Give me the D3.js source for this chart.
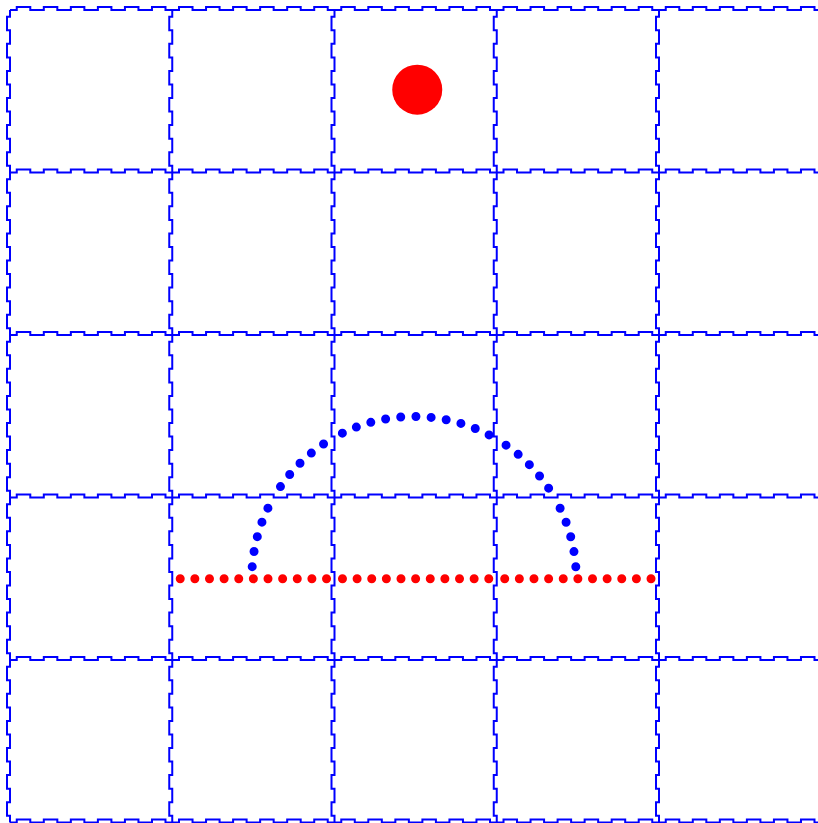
<!DOCTYPE html>
<html>
<head>
<meta charset="utf-8">
<script src="https://cdn.jsdelivr.net/npm/d3@7"></script>
<style>
  body { margin: 0; background: #fff; }
</style>
</head>
<body>
<div id="chart"></div>
<script>
// grid in cell units, 5 x 5 cells
const gridTicks = [0, 1, 2, 3, 4, 5];
const stitchCount = 6;          // bumps per cell edge

// big red dot
const bigDot = [2.51, 0.49];

// red dotted baseline
const baseX = [1, 4];
const baseY = 3.5;

// blue dotted half circle
const arcCenter = [2.49, 3.5];
const arcRadius = 1;

const width = 818;
const height = 823;

const x = d3.scaleLinear().domain([0, 5]).range([10, 821.25]);
const y = d3.scaleLinear().domain([0, 5]).range([10, 822.5]);

const svg = d3.select('#chart')
  .append('svg')
  .attr('width', width)
  .attr('height', height)
  .style('display', 'block');

svg.append('rect')
  .attr('width', width)
  .attr('height', height)
  .attr('fill', '#fff');

// stitched grid lines
const amp = 3;
function stitch(horizontal, pos) {
  const p = d3.path();
  const sc = horizontal ? x : y;
  for (let i = 0; i < gridTicks.length - 1; i++) {
    const a = sc(gridTicks[i]);
    const pw = (sc(gridTicks[i + 1]) - a) / stitchCount;
    for (let k = 0; k < stitchCount; k++) {
      const s = a + k * pw;
      const pts = [
        [s, 0], [s + pw / 4, 0], [s + pw / 4, -amp],
        [s + 3 * pw / 4, -amp], [s + 3 * pw / 4, 0], [s + pw, 0]
      ];
      pts.forEach(([u, v], j) => {
        const px = horizontal ? u : pos + v;
        const py = horizontal ? pos + v : u;
        if (i === 0 && k === 0 && j === 0) p.moveTo(px, py);
        else p.lineTo(px, py);
      });
    }
  }
  return p.toString();
}

const grid = svg.append('g')
  .attr('fill', 'none')
  .attr('stroke', '#0000ff')
  .attr('stroke-width', 2);

grid.selectAll('.hline')
  .data(gridTicks)
  .enter()
  .append('path')
  .attr('class', 'hline')
  .attr('d', d => stitch(true, y(d)));

// the last column line falls outside the picture
grid.selectAll('.vline')
  .data(gridTicks.filter(t => x(t) < width))
  .enter()
  .append('path')
  .attr('class', 'vline')
  .attr('d', d => stitch(false, x(d)));

// dotted pieces, dash pattern restarts in every cell
function dotted(g, pieces, color, gap) {
  g.selectAll('path')
    .data(pieces)
    .enter()
    .append('path')
    .attr('d', d => d)
    .attr('fill', 'none')
    .attr('stroke', color)
    .attr('stroke-width', 9)
    .attr('stroke-linecap', 'round')
    .attr('stroke-dasharray', `0 ${gap}`)
    .each(function() {
      const len = this.getTotalLength();
      const n = Math.floor(len / gap);
      const start = (len - (n - 1) * gap) / 2;
      d3.select(this).attr('stroke-dashoffset', gap - start);
    });
}

// red baseline split at grid columns
const cuts = [baseX[0]].concat(gridTicks.filter(t => t > baseX[0] && t < baseX[1]), [baseX[1]]);
const linePieces = d3.pairs(cuts).map(([a, b]) =>
  d3.line()([[x(a), y(baseY)], [x(b), y(baseY)]]));
dotted(svg.append('g'), linePieces, '#ff0000', 14.63);

// blue half circle split where it meets grid lines
const cx = x(arcCenter[0]);
const cy = y(arcCenter[1]);
const r = x(arcRadius) - x(0);
let angles = [Math.PI, 2 * Math.PI];
gridTicks.forEach(t => {
  const dx = (x(t) - cx) / r;
  if (Math.abs(dx) < 1) angles.push(2 * Math.PI - Math.acos(dx));
  const dy = (y(t) - cy) / r;
  if (dy > -1 && dy < 0) {
    angles.push(Math.PI - Math.asin(dy));
    angles.push(2 * Math.PI + Math.asin(dy));
  }
});
angles.sort(d3.ascending);
const arcPieces = d3.pairs(angles).map(([a0, a1]) => {
  const p = d3.path();
  p.arc(cx, cy, r, a0, a1, false);
  return p.toString();
});
dotted(svg.append('g'), arcPieces, '#0000ff', 15.2);

// big red dot
svg.append('circle')
  .attr('cx', x(bigDot[0]))
  .attr('cy', y(bigDot[1]))
  .attr('r', 25)
  .attr('fill', '#ff0000');
</script>
</body>
</html>
